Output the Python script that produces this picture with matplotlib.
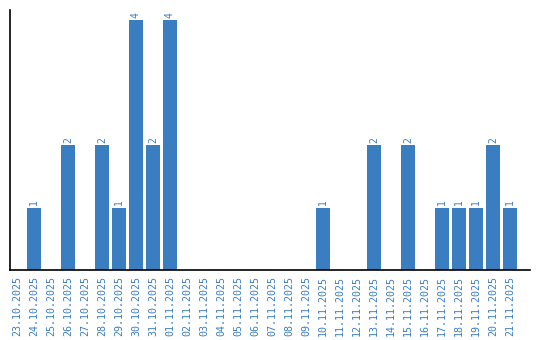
import matplotlib
matplotlib.use("Agg")
import matplotlib.pyplot as plt

# daily counts
dates = ["23.10.2025", "24.10.2025", "25.10.2025", "26.10.2025", "27.10.2025",
         "28.10.2025", "29.10.2025", "30.10.2025", "31.10.2025", "01.11.2025",
         "02.11.2025", "03.11.2025", "04.11.2025", "05.11.2025", "06.11.2025",
         "07.11.2025", "08.11.2025", "09.11.2025", "10.11.2025", "11.11.2025",
         "12.11.2025", "13.11.2025", "14.11.2025", "15.11.2025", "16.11.2025",
         "17.11.2025", "18.11.2025", "19.11.2025", "20.11.2025", "21.11.2025"]
counts = [0, 1, 0, 2, 0, 2, 1, 4, 2, 4,
          0, 0, 0, 0, 0, 0, 0, 0, 1, 0,
          0, 2, 0, 2, 0, 1, 1, 1, 2, 1]

blue = "#3a7dc1"
mono = "DejaVu Sans Mono"

fig = plt.figure(figsize=(5.4, 3.4), dpi=100)
ax = fig.add_axes([10 / 540, 70 / 340, 520 / 540, 260 / 340])

x = list(range(len(dates)))
ax.bar(x, counts, width=0.82, color=blue)

for xi, c in zip(x, counts):
    if c > 0:
        ax.text(xi, c + 0.04, str(c), rotation=90, ha="center", va="bottom",
                color=blue, fontsize=7, family=mono)

ax.set_xlim(-0.41, 30.18)
ax.set_ylim(0, 4.16)
ax.set_xticks(x)
ax.set_xticklabels(dates, rotation=90, color=blue, fontsize=7.2, family=mono)
ax.tick_params(axis="x", length=0, pad=4)
ax.set_yticks([])
ax.spines["top"].set_visible(False)
ax.spines["right"].set_visible(False)
ax.spines["left"].set_linewidth(1.2)
ax.spines["bottom"].set_linewidth(1.2)

fig.savefig("out.png", dpi=100)
